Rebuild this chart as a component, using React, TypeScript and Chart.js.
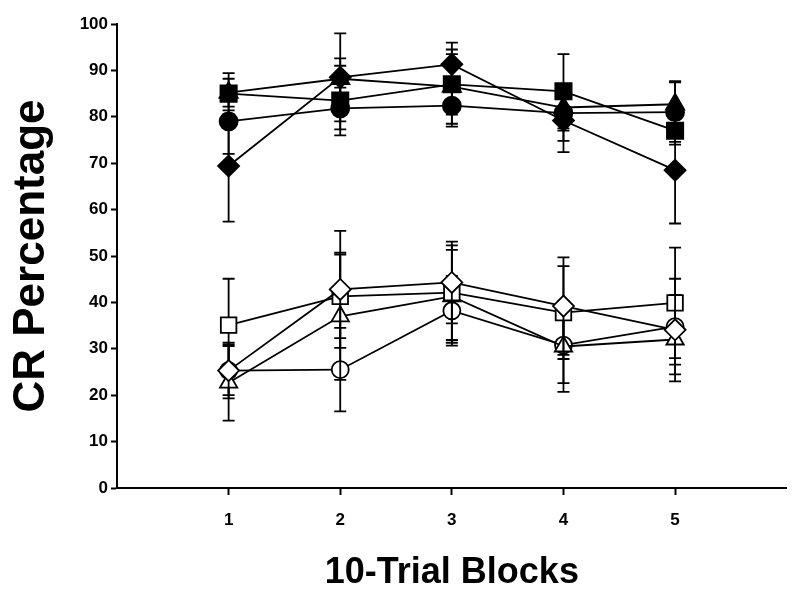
import { useEffect, useRef } from 'react';
import { Chart, registerables } from 'chart.js';

Chart.register(...registerables);

const blocks = [1, 2, 3, 4, 5];
const yTickValues = [0, 10, 20, 30, 40, 50, 60, 70, 80, 90, 100];

// filled symbols (upper group)
const filledSquare = [85, 83.5, 87, 85.5, 77];
const filledSquareErr = [4.4, 7.5, 6.5, 8, 3];
const filledCircle = [79, 81.8, 82.4, 80.8, 81];
const filledCircleErr = [7, 4.5, 4.5, 6, 6.4];
const filledTriangle = [85.2, 88.2, 86.5, 82, 82.7];
const filledTriangleErr = [3, 4.4, 8, 5, 5];
const filledDiamond = [69.4, 88.5, 91.3, 79.2, 68.5];
const filledDiamondErr = [12, 9.5, 4.7, 6.8, 11.5];

// open symbols (lower group)
const openSquare = [35.1, 41.3, 42.1, 37.8, 39.9];
const openSquareErr = [10, 9, 10.2, 10, 11.9];
const openCircle = [25.3, 25.5, 38.2, 30.8, 34.8];
const openCircleErr = [5.3, 9, 7.5, 8.2, 10.3];
const openTriangle = [22.7, 37, 41.3, 30.5, 32];
const openTriangleErr = [8.2, 13.7, 10, 9.8, 9];
const openDiamond = [25.3, 42.8, 44.3, 39.2, 34.1];
const openDiamondErr = [6, 12.6, 8.8, 10.5, 7.5];

const FONT = "'Liberation Sans', Arial, Helvetica, sans-serif";

const toPoints = (vals: number[]) => vals.map((v, i) => ({ x: blocks[i], y: v }));

const errorBarPlugin = {
  id: 'errorBars',
  beforeDatasetDraw(chart: any, args: any) {
    const ds = chart.data.datasets[args.index];
    const errs: number[] | undefined = ds.errors;
    if (!errs) return;
    const xs = chart.scales.x;
    const ys = chart.scales.y;
    const ctx = chart.ctx;
    ctx.save();
    ctx.strokeStyle = '#000';
    ctx.lineWidth = 1.8;
    ds.data.forEach((p: any, i: number) => {
      const px = xs.getPixelForValue(p.x);
      const top = ys.getPixelForValue(p.y + errs[i]);
      const bot = ys.getPixelForValue(p.y - errs[i]);
      ctx.beginPath();
      ctx.moveTo(px, top);
      ctx.lineTo(px, bot);
      ctx.moveTo(px - 6, top);
      ctx.lineTo(px + 6, top);
      ctx.moveTo(px - 6, bot);
      ctx.lineTo(px + 6, bot);
      ctx.stroke();
    });
    ctx.restore();
  },
};

function makeSet(label: string, vals: number[], errs: number[], style: string, radius: number, filled: boolean) {
  return {
    label,
    data: toPoints(vals),
    errors: errs,
    borderColor: '#000',
    borderWidth: 1.8,
    backgroundColor: filled ? '#000' : '#fff',
    pointStyle: style,
    pointRadius: radius,
    pointBorderWidth: 1.8,
    pointBorderColor: '#000',
    pointBackgroundColor: filled ? '#000' : '#fff',
    tension: 0,
    fill: false,
    clip: false,
  } as any;
}

export default function App() {
  const ref = useRef<HTMLCanvasElement | null>(null);

  useEffect(() => {
    if (!ref.current) return;
    const chart = new Chart(ref.current, {
      type: 'line',
      data: {
        datasets: [
          makeSet('Filled diamond', filledDiamond, filledDiamondErr, 'rectRot', 10.5, true),
          makeSet('Filled square', filledSquare, filledSquareErr, 'rect', 11.5, true),
          makeSet('Filled triangle', filledTriangle, filledTriangleErr, 'triangle', 10.5, true),
          makeSet('Filled circle', filledCircle, filledCircleErr, 'circle', 9, true),
          makeSet('Open diamond', openDiamond, openDiamondErr, 'rectRot', 10.5, false),
          makeSet('Open square', openSquare, openSquareErr, 'rect', 11, false),
          makeSet('Open triangle', openTriangle, openTriangleErr, 'triangle', 10, false),
          makeSet('Open circle', openCircle, openCircleErr, 'circle', 8.5, false),
        ],
      },
      options: {
        responsive: false,
        animation: false,
        layout: { padding: { top: 24, right: 13, left: 0, bottom: 0 } },
        plugins: {
          legend: { display: false },
          tooltip: { enabled: false },
        },
        scales: {
          x: {
            type: 'linear',
            min: 0,
            max: 6,
            afterBuildTicks: (s: any) => {
              s.ticks = blocks.map((v) => ({ value: v }));
            },
            afterFit: (s: any) => {
              s.height = 594 - 488;
            },
            ticks: {
              color: '#000',
              font: { family: FONT, size: 17, weight: 'bold' },
              padding: 15,
              maxRotation: 0,
              autoSkip: false,
            },
            grid: {
              drawOnChartArea: false,
              drawTicks: true,
              tickLength: 7,
              tickColor: '#000',
              tickWidth: 2,
            },
            border: { display: true, color: '#000', width: 2 },
            title: {
              display: true,
              text: '10-Trial Blocks',
              color: '#000',
              font: { family: FONT, size: 36, weight: 'bold', lineHeight: 1 },
              padding: { top: 0, bottom: 3 },
            },
          },
          y: {
            type: 'linear',
            min: 0,
            max: 100,
            afterBuildTicks: (s: any) => {
              s.ticks = yTickValues.map((v) => ({ value: v }));
            },
            afterFit: (s: any) => {
              s.width = 117;
            },
            ticks: {
              color: '#000',
              font: { family: FONT, size: 17, weight: 'bold' },
              padding: 3,
            },
            grid: {
              drawOnChartArea: false,
              drawTicks: true,
              tickLength: 6,
              tickColor: '#000',
              tickWidth: 2,
            },
            border: { display: true, color: '#000', width: 2 },
            title: {
              display: true,
              text: 'CR Percentage',
              color: '#000',
              font: { family: FONT, size: 44, weight: 'bold', lineHeight: 1 },
              padding: { top: 10, bottom: 0 },
            },
          },
        },
      } as any,
      plugins: [errorBarPlugin],
    });
    return () => chart.destroy();
  }, []);

  return (
    <canvas
      ref={ref}
      width={800}
      height={594}
      style={{ position: 'absolute', left: 0, top: 0, width: 800, height: 594 }}
    />
  );
}
